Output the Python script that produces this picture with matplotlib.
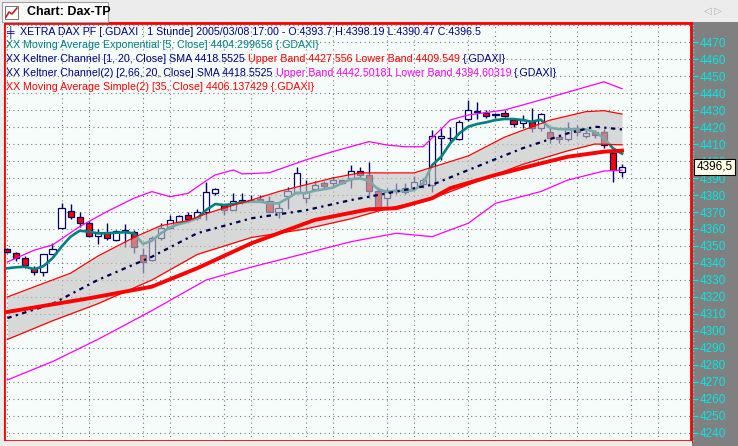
import numpy as np
import matplotlib.pyplot as plt
from matplotlib.patches import Rectangle

plt.rcParams['font.family'] = ['Liberation Sans', 'DejaVu Sans']

# --- candles (hourly bars) ---
opens = [4348.2, 4346.1, 4342.8, 4337.2, 4334.7, 4345.3, 4360.4, 4370.8, 4366.9, 4363.4,
         4355.9, 4357.5, 4353.5, 4359.4, 4358.4, 4344.7, 4341.8, 4354.5, 4360.4, 4364.1,
         4368.1, 4366.6, 4370.2, 4381.4, 4374.1, 4371.0, 4375.7, 4376.7, 4377.5, 4376.7,
         4370.2, 4379.2, 4381.4, 4378.1, 4383.3, 4386.9, 4387.0, 4388.8, 4389.8, 4394.1,
         4391.8, 4382.5, 4378.1, 4383.0, 4382.0, 4384.3, 4386.5, 4386.0, 4413.6, 4413.8,
         4413.0, 4424.7, 4429.4, 4428.0, 4427.6, 4428.0, 4424.1, 4422.2, 4423.1, 4419.6,
         4416.9, 4414.3, 4412.8, 4419.2, 4414.9, 4416.9, 4417.2, 4404.5, 4393.7]
highs = [4349.0, 4346.6, 4344.1, 4338.2, 4345.5, 4351.6, 4375.1, 4374.7, 4370.2, 4364.9,
         4359.8, 4363.4, 4359.5, 4362.9, 4359.4, 4348.6, 4355.9, 4363.4, 4368.2, 4368.0,
         4370.2, 4371.6, 4387.8, 4384.0, 4374.5, 4381.0, 4381.0, 4380.0, 4380.0, 4379.2,
         4376.0, 4385.0, 4396.7, 4388.8, 4388.0, 4388.0, 4390.4, 4389.0, 4397.6, 4396.7,
         4399.6, 4385.0, 4384.0, 4386.9, 4386.9, 4391.0, 4390.0, 4418.5, 4419.2, 4420.2,
         4424.1, 4435.9, 4434.5, 4430.0, 4428.5, 4430.0, 4425.5, 4427.0, 4431.0, 4428.5,
         4420.2, 4416.0, 4423.1, 4421.0, 4418.0, 4418.5, 4419.0, 4405.9, 4398.19]
lows = [4345.6, 4341.4, 4336.9, 4332.9, 4332.5, 4345.0, 4360.0, 4365.7, 4361.4, 4355.1,
        4351.2, 4353.5, 4353.0, 4349.6, 4346.0, 4333.9, 4341.0, 4353.5, 4360.0, 4363.5,
        4364.3, 4365.3, 4365.3, 4380.0, 4368.2, 4371.0, 4375.0, 4376.0, 4376.0, 4370.0,
        4366.3, 4372.0, 4380.5, 4375.1, 4383.0, 4384.0, 4385.0, 4386.5, 4384.0, 4390.7,
        4378.0, 4371.2, 4373.3, 4380.6, 4380.6, 4382.9, 4384.0, 4382.0, 4400.6, 4411.5,
        4412.5, 4423.5, 4425.0, 4425.5, 4425.5, 4426.0, 4420.2, 4419.2, 4417.2, 4417.5,
        4410.4, 4410.4, 4412.0, 4415.0, 4413.4, 4413.4, 4407.5, 4387.5, 4390.47]
closes = [4346.3, 4342.8, 4338.8, 4334.7, 4345.3, 4348.0, 4372.2, 4366.9, 4363.4, 4355.9,
          4357.5, 4354.5, 4359.0, 4358.6, 4349.6, 4340.8, 4354.5, 4360.4, 4365.3, 4367.5,
          4366.1, 4369.8, 4382.0, 4383.3, 4371.2, 4376.3, 4377.1, 4377.2, 4376.5, 4370.2,
          4372.2, 4382.1, 4392.7, 4382.0, 4385.9, 4385.3, 4388.8, 4386.9, 4394.1, 4391.8,
          4382.5, 4372.2, 4382.0, 4382.2, 4384.3, 4387.5, 4389.0, 4415.0, 4414.5, 4413.3,
          4423.1, 4430.0, 4428.6, 4426.6, 4426.8, 4426.6, 4421.6, 4424.1, 4419.6, 4427.5,
          4413.7, 4412.8, 4419.2, 4416.9, 4416.3, 4415.3, 4409.4, 4394.7, 4396.5]

# --- EMA(5), one value per bar ---
ema5 = [4336.9, 4337.5, 4337.8, 4336.3, 4338.2, 4342.8, 4349.6, 4355.5, 4359.0, 4358.4,
        4357.5, 4357.5, 4357.8, 4358.1, 4357.5, 4351.2, 4353.1, 4357.5, 4361.0, 4362.9,
        4364.3, 4366.3, 4371.2, 4374.7, 4374.1, 4374.7, 4375.7, 4376.0, 4376.0, 4375.1,
        4375.1, 4378.0, 4381.4, 4381.0, 4382.5, 4383.4, 4384.3, 4386.9, 4389.2, 4389.8,
        4388.4, 4383.4, 4381.9, 4382.5, 4382.3, 4382.9, 4386.9, 4397.6, 4402.5, 4410.4,
        4416.3, 4420.2, 4421.8, 4422.8, 4424.1, 4424.7, 4424.7, 4424.1, 4423.1, 4424.3,
        4419.6, 4418.8, 4418.6, 4418.6, 4418.6, 4417.2, 4413.4, 4407.5, 4404.3]

# --- Keltner channel 1 (read at sample bars) ---
k1_up_x = [0, 3, 7, 10, 14, 17, 20, 22, 25, 27, 30, 33, 36, 39, 42, 45, 48, 51, 55, 60, 64, 66, 68]
k1_up = [4320, 4326, 4334, 4344, 4355, 4362, 4365, 4369, 4374, 4377, 4382, 4386, 4390, 4393,
         4393, 4393, 4398, 4403, 4414, 4424, 4429, 4429.6, 4427.6]
k1_lo_x = [0, 5, 10, 16, 21, 27, 33, 38, 42, 47, 51, 57, 62, 65, 68]
k1_lo = [4295, 4306, 4316, 4330, 4345, 4355, 4360, 4366, 4372, 4378, 4386, 4398, 4406, 4410, 4409.5]
k1_mid_x = [0, 5, 10, 16, 21, 27, 33, 38, 42, 47, 51, 57, 62, 65, 68]
k1_mid = [4307.6, 4316, 4330, 4343.7, 4357.5, 4366.3, 4371, 4377, 4381, 4386, 4394.7, 4407.5,
          4416.3, 4420.2, 4418.55]

# --- Keltner channel 2 (magenta) ---
k2_up_x = [0, 3, 5, 8, 11, 14, 16, 18, 20, 22, 23, 25, 26, 29, 33, 36, 40, 42, 44, 46, 49, 51,
           55, 59, 66, 68]
k2_up = [4340.6, 4347.6, 4350.6, 4361.4, 4370.2, 4378.1, 4382, 4379, 4381, 4388.4, 4391.8,
         4394.7, 4392.4, 4393.1, 4400.6, 4405.5, 4411.4, 4409.4, 4408.4, 4408.4, 4424.1,
         4427.1, 4430, 4435.9, 4446.6, 4442.5]
k2_lo_x = [0, 5, 10, 16, 22, 27, 33, 38, 43, 47, 51, 54, 59, 62, 66, 68]
k2_lo = [4271.2, 4282, 4295, 4312, 4330, 4337.6, 4345.7, 4352.5, 4357.5, 4355.5, 4363.4,
         4375.1, 4382, 4388.8, 4394.1, 4394.6]

# --- SMA(35) thick red ---
sma35_x = [0, 9, 16, 21, 27, 34, 40, 43, 47, 49, 54, 59, 62, 66, 68]
sma35 = [4311.2, 4319.2, 4326.1, 4336.9, 4351.6, 4365.3, 4371.6, 4372.2, 4378.1, 4384,
         4391.8, 4398.6, 4402.5, 4405.5, 4406.1]

vgrid_x = [0, 6, 9, 15, 18, 24, 27, 33, 36, 42, 45, 51, 54, 60, 63, 69, 72]
last_close = 4396.5

fig = plt.figure(figsize=(7.38, 4.46), dpi=100)
fig.patch.set_facecolor('#808080')
W, H = 738, 446

# top tab bar
fig.patches.append(Rectangle((0, 1 - 22 / H), 1, 22 / H, transform=fig.transFigure,
                             facecolor='#ececec', edgecolor='none', zorder=0))
fig.patches.append(Rectangle((2 / W, 1 - 22 / H), 106 / W, 20 / H, transform=fig.transFigure,
                             facecolor='#fbfbfb', edgecolor='#a0a0a0', lw=0.8, zorder=1))
fig.patches.append(Rectangle((5 / W, 1 - 19 / H), 13 / W, 13 / H, transform=fig.transFigure,
                             facecolor='white', edgecolor='#606060', lw=0.6, zorder=2))
fig.lines.append(plt.Line2D([6 / W, 9 / W, 12 / W, 17 / W], [1 - 17 / H, 1 - 12 / H, 1 - 14 / H, 1 - 8 / H],
                            transform=fig.transFigure, color='#cc2020', lw=1.2, zorder=3))
fig.text(27 / W, 1 - 12 / H, 'Chart: Dax-TP', fontsize=9, fontweight='bold', va='center', color='black')
fig.text(704 / W, 1 - 11 / H, '◁ ▷', fontsize=7, va='center', color='#b0b0b0')
fig.patches.append(Rectangle((0, 0), 4 / W, 1 - 22 / H, transform=fig.transFigure,
                             facecolor='#ececec', edgecolor='none', zorder=0))
fig.patches.append(Rectangle((0, 0), 692 / W, 5 / H, transform=fig.transFigure,
                             facecolor='#ececec', edgecolor='none', zorder=0))

ax = fig.add_axes([4 / W, 5 / H, 687 / W, 418 / H])
ax.set_facecolor('#f6fcfa')
ax.set_xlim(-0.365, 75.63)
ax.set_ylim(4235.29, 4481.18)

# grid
for gx in vgrid_x:
    ax.axvline(gx, color='#7a7a7a', lw=0.8, ls=(0, (1, 3)), zorder=1)
for gy in range(4240, 4481, 10):
    ax.axhline(gy, color='#7a7a7a', lw=0.8, ls=(0, (1, 3)), zorder=1)

# candles
x = np.arange(len(closes))
o = np.array(opens)
c = np.array(closes)
ax.vlines(x, lows, highs, color='#000060', lw=1, zorder=2)
body_lo = np.minimum(o, c)
body_h = np.maximum(np.abs(c - o), 0.4)
cols = ['white' if cc >= oo else '#ff0000' for oo, cc in zip(o, c)]
ax.bar(x, body_h, bottom=body_lo, width=0.68, color=cols, edgecolor='#000060', lw=0.9, zorder=3)

# EMA
ax.plot(x, ema5, color='#008080', lw=1.9, zorder=3.5)

# Keltner 1 fill (drawn over the candles, like the original)
fx = np.arange(0, 69)
ax.fill_between(fx, np.interp(fx, k1_lo_x, k1_lo), np.interp(fx, k1_up_x, k1_up),
                color='#c4c4c4', alpha=0.62, lw=0, zorder=4)
ax.plot(k1_up_x, k1_up, color='#ff0000', lw=0.9, zorder=5)
ax.plot(k1_lo_x, k1_lo, color='#ff0000', lw=0.9, zorder=5)
ax.plot(k1_mid_x, k1_mid, color='#000050', lw=1.6, ls=(0, (2, 2, 1, 2)), zorder=5)

# Keltner 2
ax.plot(k2_up_x, k2_up, color='#ff00ff', lw=0.9, zorder=5)
ax.plot(k2_lo_x, k2_lo, color='#ff00ff', lw=0.9, zorder=5)

# SMA35
ax.plot(sma35_x, sma35, color='#ff0000', lw=2.8, zorder=5.5)

for s in ax.spines.values():
    s.set_color('#ff0000')
    s.set_linewidth(2)

ax.set_xticks([])
ax.yaxis.tick_right()
ax.set_yticks(range(4240, 4471, 10))
ax.set_yticks(np.arange(4236, 4482, 2), minor=True)
ax.tick_params(axis='y', which='major', colors='#00e8e8', length=5, width=1, pad=1, labelsize=8.5)
ax.tick_params(axis='y', which='minor', colors='#00e8e8', length=2, width=1)

# last price tag
ax.annotate(f'{last_close}'.replace('.', ','), xy=(1, last_close), xycoords=('axes fraction', 'data'),
            xytext=(4, 0), textcoords='offset points', va='center', ha='left', fontsize=8.5,
            color='black', annotation_clip=False, zorder=10,
            bbox=dict(boxstyle='square,pad=0.2', fc='#ffffe8', ec='black', lw=0.8))

# legend lines
navy = '#000080'
lines = [
    [('╪  ', navy), ('XETRA DAX PF [.GDAXI : 1 Stunde] 2005/03/08 17:00 - O:4393.7 H:4398.19 L:4390.47 C:4396.5', navy)],
    [('XX ', '#008080'), ('Moving Average Exponential [5, Close] 4404.299656 {.GDAXI}', '#008080')],
    [('XX ', navy), ('Keltner Channel [1, 20, Close] SMA 4418.5525 ', navy),
     ('Upper Band 4427.556 Lower Band 4409.549 ', '#ff0000'), ('{.GDAXI}', navy)],
    [('XX ', navy), ('Keltner Channel(2) [2,66, 20, Close] SMA 4418.5525 ', navy),
     ('Upper Band 4442.50181 Lower Band 4394.60319 ', '#ff00ff'), ('{.GDAXI}', navy)],
    [('XX ', '#ff0000'), ('Moving Average Simple(2) [35, Close] 4406.137429 {.GDAXI}', '#ff0000')],
]
ys = [32, 45.5, 59.5, 73, 86.5]
for segs, yp in zip(lines, ys):
    prev = None
    for txt, col in segs:
        if prev is None:
            prev = fig.text(6 / W, 1 - yp / H, txt, color=col, fontsize=7.7, va='center', ha='left')
        else:
            prev = ax.annotate(txt, xy=(1, 0.5), xycoords=prev, va='center', ha='left',
                               color=col, fontsize=7.7, annotation_clip=False)

fig.savefig('out.png', dpi=100, facecolor=fig.get_facecolor())
